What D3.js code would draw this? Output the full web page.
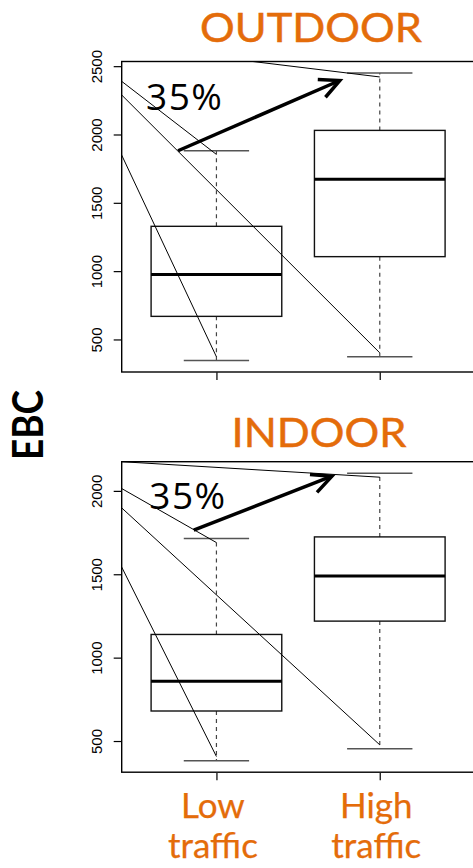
<!DOCTYPE html>
<html>
<head>
<meta charset="utf-8">
<script src="https://cdn.jsdelivr.net/npm/d3@7"></script>
<style>
  body { margin: 0; background: #fff; }
  svg { display: block; }
</style>
</head>
<body>
<svg id="chart" width="473" height="868"></svg>
<script>
// ---- data -------------------------------------------------------------
const groupPositions = [1, 2];                 // Low traffic, High traffic
const groupLabelLines = [["Low", "traffic"], ["High", "traffic"]];
const panelTitles = ["OUTDOOR", "INDOOR"];
const yTickValues = [500, 1000, 1500, 2000, 2500];

// box statistics, [Low traffic, High traffic]
const outdoorLower = [346, 373];
const outdoorQ1 = [669, 1106];
const outdoorMedian = [976, 1673];
const outdoorQ3 = [1328, 2030];
const outdoorUpper = [1881, 2450];

const indoorLower = [382, 454];
const indoorQ1 = [680, 1219];
const indoorMedian = [858, 1489];
const indoorQ3 = [1139, 1724];
const indoorUpper = [1714, 2106];

// thin guide lines: value at the left edge -> (group, value)
const outdoorGuideStart = [2389, 2289, 1849, 2651];
const outdoorGuideGroup = [1, 2, 1, 2];
const outdoorGuideEnd = [1854, 402, 373, 2421];

const indoorGuideStart = [2014, 1898, 1543, 2175];
const indoorGuideGroup = [1, 2, 1, 2];
const indoorGuideEnd = [1690, 477, 407, 2082];

// increase arrows: [x0, value0, x1, value1]
const outdoorArrow = [0.765, 1881, 1.755, 2395];
const indoorArrow = [0.861, 1764, 1.707, 2088];
const increaseLabel = "35%";
const outdoorLabelAt = [0.569, 2180];
const indoorLabelAt = [0.589, 1889];

// ---- layout -----------------------------------------------------------
const ORANGE = "#E46C0A";
const svg = d3.select("#chart");
const left = 121.7, right = 474.5, panelH = 310.5;
const panelTops = [61.5, 461.7];

const x = d3.scaleLinear().domain([0.42, 2.58]).range([left, right]);

const panels = [
  { title: panelTitles[0], lower: outdoorLower, q1: outdoorQ1, med: outdoorMedian, q3: outdoorQ3, upper: outdoorUpper,
    gStart: outdoorGuideStart, gGroup: outdoorGuideGroup, gEnd: outdoorGuideEnd,
    arrow: outdoorArrow, labelAt: outdoorLabelAt, titleX: 311, titleDy: -19.8, titleLen: 222 },
  { title: panelTitles[1], lower: indoorLower, q1: indoorQ1, med: indoorMedian, q3: indoorQ3, upper: indoorUpper,
    gStart: indoorGuideStart, gGroup: indoorGuideGroup, gEnd: indoorGuideEnd,
    arrow: indoorArrow, labelAt: indoorLabelAt, titleX: 319, titleDy: -15, titleLen: 175 }
];

const boxHalf = 0.4, capHalf = 0.2;

panels.forEach((p, pi) => {
  const top = panelTops[pi], bottom = top + panelH;
  // R-style limits: data range padded by 4%
  const lo = d3.min(p.lower), hi = d3.max(p.upper), pad = (hi - lo) * 0.04;
  const y = d3.scaleLinear().domain([lo - pad, hi + pad]).range([bottom, top]);

  const g = svg.append("g");
  const clipId = "clip" + pi;
  svg.append("clipPath").attr("id", clipId)
    .append("rect").attr("x", left).attr("y", top).attr("width", right - left).attr("height", panelH);

  // title
  g.append("text")
    .attr("x", p.titleX).attr("y", top + p.titleDy)
    .attr("text-anchor", "middle")
    .attr("font-family", "Lato, 'Open Sans', sans-serif")
    .attr("font-size", 40)
    .attr("fill", ORANGE)
    .attr("stroke", ORANGE).attr("stroke-width", 0.45)
    .attr("textLength", p.titleLen).attr("lengthAdjust", "spacingAndGlyphs")
    .text(p.title);

  // boxes
  groupPositions.forEach((gp, i) => {
    // dashed whiskers
    g.append("line").attr("x1", x(gp)).attr("x2", x(gp))
      .attr("y1", y(p.q3[i])).attr("y2", y(p.upper[i]))
      .attr("stroke", "#444").attr("stroke-width", 1.2).attr("stroke-dasharray", "4,4");
    g.append("line").attr("x1", x(gp)).attr("x2", x(gp))
      .attr("y1", y(p.q1[i])).attr("y2", y(p.lower[i]))
      .attr("stroke", "#444").attr("stroke-width", 1.2).attr("stroke-dasharray", "4,4");
    // caps
    [p.upper[i], p.lower[i]].forEach(v => {
      g.append("line").attr("x1", x(gp - capHalf)).attr("x2", x(gp + capHalf))
        .attr("y1", y(v)).attr("y2", y(v))
        .attr("stroke", "#555").attr("stroke-width", 1.4);
    });
    // box
    g.append("rect")
      .attr("x", x(gp - boxHalf)).attr("width", x(gp + boxHalf) - x(gp - boxHalf))
      .attr("y", y(p.q3[i])).attr("height", y(p.q1[i]) - y(p.q3[i]))
      .attr("fill", "none").attr("stroke", "#111").attr("stroke-width", 1.4);
    // median
    g.append("line").attr("x1", x(gp - boxHalf)).attr("x2", x(gp + boxHalf))
      .attr("y1", y(p.med[i])).attr("y2", y(p.med[i]))
      .attr("stroke", "#000").attr("stroke-width", 3);
  });

  // guide lines from the left edge
  const guides = g.append("g").attr("clip-path", `url(#${clipId})`);
  p.gStart.forEach((v, i) => {
    guides.append("line")
      .attr("x1", x.range()[0]).attr("y1", y(v))
      .attr("x2", x(p.gGroup[i])).attr("y2", y(p.gEnd[i]))
      .attr("stroke", "#000").attr("stroke-width", 1);
  });

  // frame
  g.append("rect").attr("x", left).attr("y", top).attr("width", right - left).attr("height", panelH)
    .attr("fill", "none").attr("stroke", "#000").attr("stroke-width", 1.4);

  // y axis
  const yAxis = g.append("g").attr("transform", `translate(${left},0)`)
    .call(d3.axisLeft(y).tickValues(yTickValues.filter(v => v >= y.domain()[0] && v <= y.domain()[1]))
      .tickFormat(d3.format("d")).tickSize(8).tickSizeOuter(0));
  yAxis.select(".domain").remove();
  yAxis.selectAll(".tick line").attr("stroke", "#000").attr("stroke-width", 1.2);
  yAxis.selectAll(".tick text")
    .attr("x", null).attr("dy", null)
    .attr("transform", "translate(-20,0) rotate(-90)")
    .attr("text-anchor", "middle")
    .attr("font-family", "'Liberation Sans', Arial, sans-serif")
    .attr("font-size", 15)
    .attr("fill", "#000");

  // x axis ticks
  const xAxis = g.append("g").attr("transform", `translate(0,${bottom})`)
    .call(d3.axisBottom(x).tickValues(groupPositions).tickFormat("").tickSize(8).tickSizeOuter(0));
  xAxis.select(".domain").remove();
  xAxis.selectAll(".tick line").attr("stroke", "#222").attr("stroke-width", 1.4);

  // increase arrow
  const [ax0, av0, ax1, av1] = p.arrow;
  const X0 = x(ax0), Y0 = y(av0), X1 = x(ax1), Y1 = y(av1);
  const ang = Math.atan2(Y0 - Y1, X0 - X1);
  const wing = 22, spread = 26 * Math.PI / 180;
  g.append("line").attr("x1", X0).attr("y1", Y0).attr("x2", X1).attr("y2", Y1)
    .attr("stroke", "#000").attr("stroke-width", 3.5);
  g.append("path")
    .attr("d", d3.line()([
      [X1 + wing * Math.cos(ang + spread), Y1 + wing * Math.sin(ang + spread)],
      [X1, Y1],
      [X1 + wing * Math.cos(ang - spread), Y1 + wing * Math.sin(ang - spread)]
    ]))
    .attr("fill", "none").attr("stroke", "#000").attr("stroke-width", 3.5)
    .attr("stroke-linejoin", "miter");

  g.append("text")
    .attr("x", x(p.labelAt[0])).attr("y", y(p.labelAt[1]))
    .attr("font-family", "'Open Sans', Lato, sans-serif")
    .attr("font-size", 37)
    .attr("letter-spacing", 1.5)
    .attr("fill", "#000")
    .text(increaseLabel);

  // group labels under the lower panel, two lines each
  if (pi === panels.length - 1) {
    groupPositions.forEach((gp, i) => {
      groupLabelLines[i].forEach((line, li) => {
        g.append("text")
          .attr("x", x(gp) - 3.5).attr("y", bottom + 46 + li * 40)
          .attr("text-anchor", "middle")
          .attr("font-family", "Lato, 'Open Sans', sans-serif")
          .attr("font-size", 35)
          .attr("fill", ORANGE)
          .attr("stroke", ORANGE).attr("stroke-width", 0.25)
          .text(line);
      });
    });
  }
});

// shared y axis title
svg.append("text")
  .attr("transform", "translate(43,425) rotate(-90)")
  .attr("text-anchor", "middle")
  .attr("font-family", "Lato, 'Open Sans', sans-serif")
  .attr("font-weight", "bold")
  .attr("font-size", 42)
  .attr("textLength", 70).attr("lengthAdjust", "spacingAndGlyphs")
  .attr("fill", "#000")
  .text("EBC");
</script>
</body>
</html>
